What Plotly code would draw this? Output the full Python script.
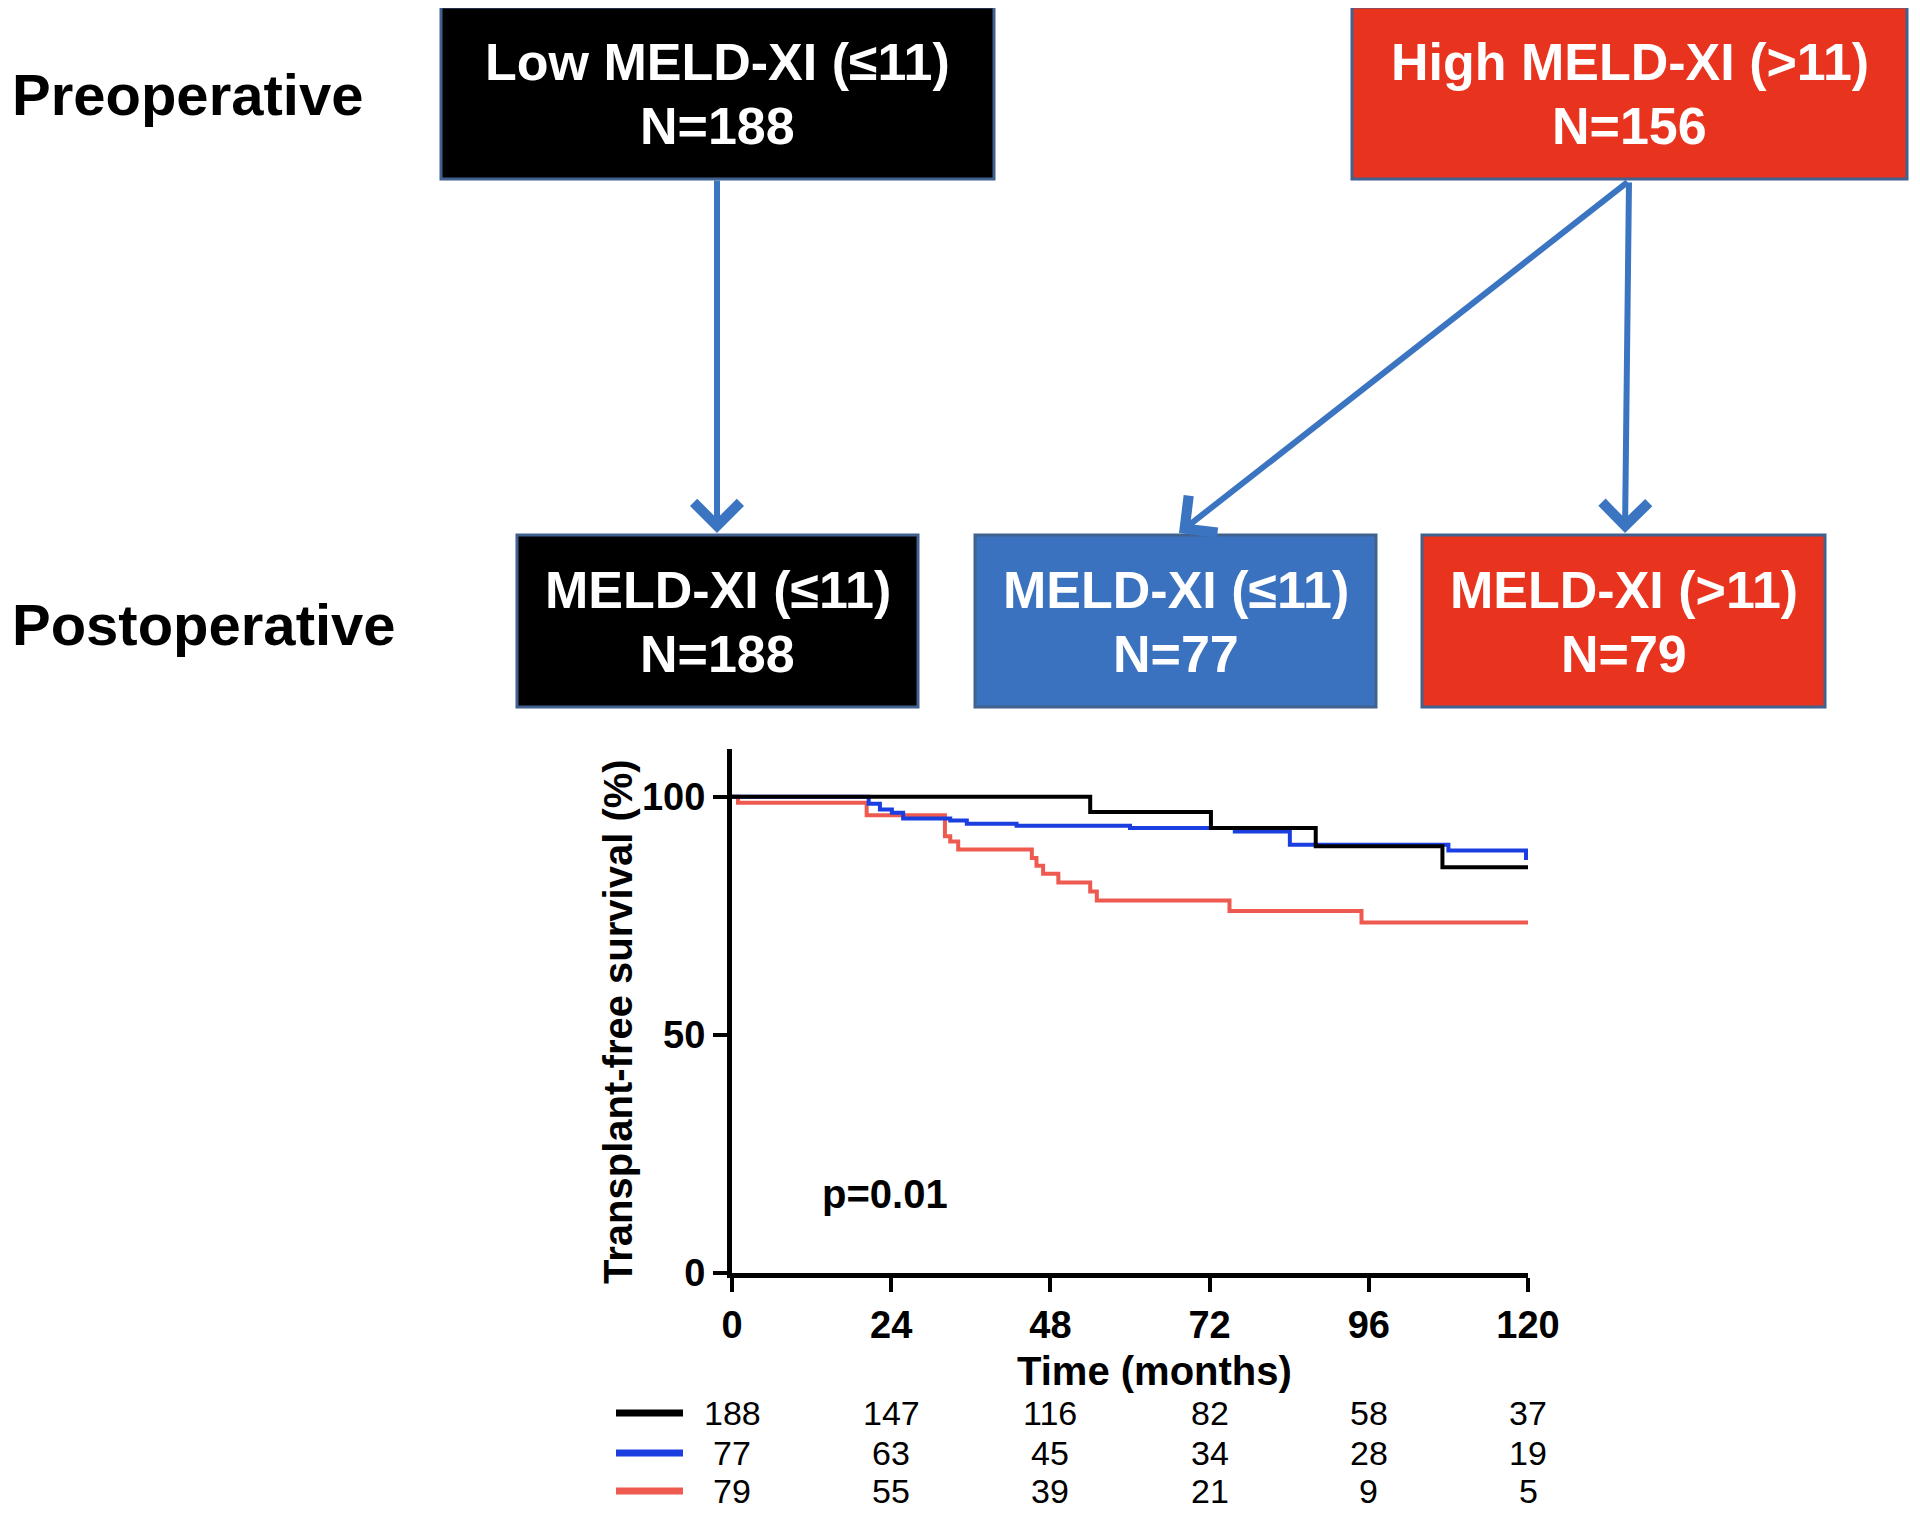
import plotly.graph_objects as go

# page is 1920x1521 with the browser's default 8px body margin around the figure
PAGE_W, PAGE_H, OFF = 1920, 1521, 8
W, H = PAGE_W - 2 * OFF, PAGE_H - 2 * OFF

# ---------------- data ----------------
# Kaplan-Meier step curves (months, % transplant-free survival)
black_t = [0, 54.0, 72.2, 88.0, 107.1, 120]
black_s = [100, 96.8, 93.4, 89.6, 85.2, 85.2]

blue_t = [0, 20.6, 22.3, 24.1, 25.8, 32.9, 35.4, 42.9, 60.0, 75.8, 84.1, 108.0, 119.7, 120]
blue_s = [100, 98.5, 97.3, 96.6, 95.4, 95.0, 94.3, 93.9, 93.4, 92.7, 89.9, 88.7, 87.1, 87.1]

red_t = [0, 0.9, 20.3, 32.1, 32.9, 34.1, 45.2, 45.9, 46.9, 49.2, 54.0, 55.0, 75.0, 94.9, 120]
red_s = [100, 98.7, 96.1, 91.7, 90.6, 88.9, 87.1, 85.5, 83.8, 82.0, 80.1, 78.2, 76.0, 73.6, 73.6]

x_ticks = [0, 24, 48, 72, 96, 120]
y_ticks = [0, 50, 100]

risk_times = [0, 24, 48, 72, 96, 120]
risk_black = [188, 147, 116, 82, 58, 37]
risk_blue = [77, 63, 45, 34, 28, 19]
risk_red = [79, 55, 39, 21, 9, 5]

pre_labels = ["Low MELD-XI (≤11)", "High MELD-XI (>11)"]
pre_n = [188, 156]
post_labels = ["MELD-XI (≤11)", "MELD-XI (≤11)", "MELD-XI (>11)"]
post_n = [188, 77, 79]
row_labels = ["Preoperative", "Postoperative"]
p_text = "p=0.01"

# ---------------- styles / layout ----------------
FONT = "Liberation Sans, Arial, sans-serif"
C_BLACK = "#000000"
C_BLUE_LINE = "#1a3ee0"
C_RED_LINE = "#ee5a4f"
C_RED_BOX = "#e8341f"
C_BLUE_BOX = "#3a72bf"
C_ARROW = "#3b74c1"
C_BORDER = "#41618f"


def px(x):
    return (x - OFF) / W


def py(y):
    return 1 - (y - OFF) / H


def ann(**kw):
    kw.setdefault("xanchor", "center")
    kw.setdefault("yanchor", "middle")
    kw.setdefault("showarrow", False)
    fig.add_annotation(**kw)


fig = go.Figure()

for t, s, c in [(red_t, red_s, C_RED_LINE), (blue_t, blue_s, C_BLUE_LINE), (black_t, black_s, C_BLACK)]:
    fig.add_trace(go.Scatter(x=t, y=s, mode="lines", line=dict(color=c, width=4, shape="hv"),
                             showlegend=False, hoverinfo="skip"))

axis_common = dict(showline=True, linecolor="black", linewidth=5, ticks="outside", ticklen=14,
                   tickwidth=4, tickcolor="black", showgrid=False, zeroline=False, automargin=False,
                   tickfont=dict(family=FONT, size=38, color="black", weight="bold"))
fig.update_layout(
    width=W, height=H, margin=dict(l=0, r=0, t=0, b=0, autoexpand=False), autosize=False,
    paper_bgcolor="white", plot_bgcolor="white", showlegend=False,
    xaxis=dict(domain=[px(732), px(1528)], range=[0, 120], tickvals=x_ticks, **axis_common),
    yaxis=dict(domain=[py(1273), py(749)], range=[0, 110], tickvals=y_ticks, **axis_common),
)

# axis titles and p-value
ann(x=px(618), y=py(1022), xref="paper", yref="paper", text="<b>Transplant-free survival (%)</b>",
    textangle=-90, font=dict(family=FONT, size=40, color="black"))
ann(x=px(1154), y=py(1371), xref="paper", yref="paper", text="<b>Time (months)</b>",
    font=dict(family=FONT, size=40, color="black"))
ann(x=23, y=16.5, xref="x", yref="y", text=f"<b>{p_text}</b>", font=dict(family=FONT, size=40, color="black"))

# number-at-risk table
row_y = [1413, 1453, 1491]
leg_colors = [C_BLACK, C_BLUE_LINE, C_RED_LINE]
for vals, ry, col in zip([risk_black, risk_blue, risk_red], row_y, leg_colors):
    for t, v in zip(risk_times, vals):
        ann(x=t, y=py(ry), xref="x", yref="paper", text=str(v), font=dict(family=FONT, size=34, color="black"))
    fig.add_shape(type="line", xref="paper", yref="paper", x0=px(616), x1=px(683), y0=py(ry), y1=py(ry),
                  line=dict(color=col, width=7))

# ---------------- flow diagram ----------------
pre_boxes = [(441, 7, 994, 179), (1352, 7, 1907, 179)]
pre_fill = [C_BLACK, C_RED_BOX]
post_boxes = [(517, 535, 918, 707), (975, 535, 1376, 707), (1422, 535, 1825, 707)]
post_fill = [C_BLACK, C_BLUE_BOX, C_RED_BOX]

for (x0, y0, x1, y1), fc in zip(pre_boxes + post_boxes, pre_fill + post_fill):
    fig.add_shape(type="rect", xref="paper", yref="paper", x0=px(x0), x1=px(x1), y0=py(y1), y1=py(y0),
                  fillcolor=fc, line=dict(color=C_BORDER, width=3))

for (x0, y0, x1, y1), lab, n in zip(pre_boxes + post_boxes, pre_labels + post_labels, pre_n + post_n):
    cx = (x0 + x1) / 2
    ann(x=px(cx), y=py(y0 + 55), xref="paper", yref="paper", text=f"<b>{lab}</b>",
        font=dict(family=FONT, size=52, color="white"))
    ann(x=px(cx), y=py(y0 + 119), xref="paper", yref="paper", text=f"<b>N={n}</b>",
        font=dict(family=FONT, size=52, color="white"))

for lab, ry in zip(row_labels, [94, 624]):
    ann(x=px(10), y=py(ry), xref="paper", yref="paper", xanchor="left", text=f"<b>{lab}</b>",
        font=dict(family=FONT, size=58, color="black"))

arrows = [((717, 179), (717, 533)), ((1629, 181), (1179, 533)), ((1629, 181), (1625, 533))]
for (tx, ty), (hx, hy) in arrows:
    fig.add_annotation(x=px(hx), y=py(hy), xref="paper", yref="paper", ax=tx - hx, ay=ty - hy,
                       axref="pixel", ayref="pixel", text="", showarrow=True, arrowhead=4,
                       arrowsize=1.5, arrowwidth=6, arrowcolor=C_ARROW)

fig.write_html("out.html", config={"displayModeBar": False})
